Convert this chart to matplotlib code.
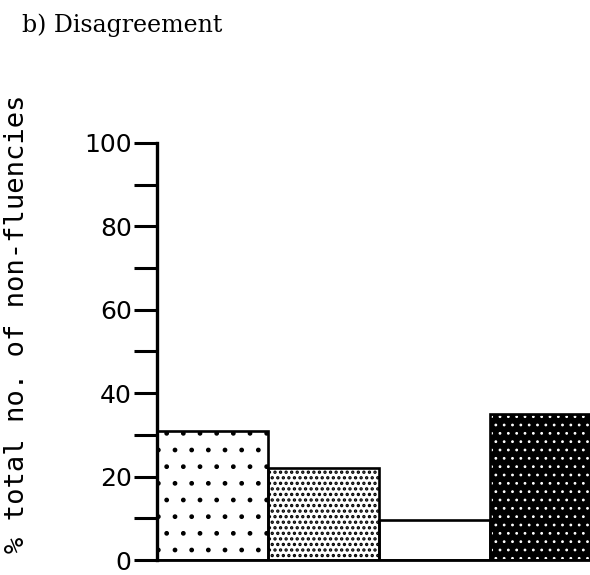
import matplotlib
matplotlib.use("Agg")

import matplotlib.pyplot as plt
from matplotlib.ticker import MultipleLocator


# ── Data ──────────────────────────────────────────────────────────────────────
conditions = ["cond 1", "cond 2", "cond 3", "cond 4"]
pct_nonfluencies = [31, 22, 9.5, 35]
y_major_ticks = [0, 20, 40, 60, 80, 100]

# ── Styles per bar ────────────────────────────────────────────────────────────
FACE_COLORS = ["white", "white", "white", "black"]
HATCHES = [".", "...", None, ".."]
HATCH_COLORS = ["black", "black", "black", "white"]
HATCH_WIDTHS = [1.0, 1.6, 1.0, 0.8]


fig = plt.figure(figsize=(5.9, 5.75), dpi=100)
fig.patch.set_facecolor("white")
ax = fig.add_axes([0.2656, 0.026, 0.7525, 0.7254])

x = list(range(len(conditions)))

# fill + hatch pass (no outline), then an outline pass on top
for xi, val, fc, h, hc, hw in zip(x, pct_nonfluencies, FACE_COLORS,
                                  HATCHES, HATCH_COLORS, HATCH_WIDTHS):
    with plt.rc_context({"hatch.linewidth": hw}):
        ax.bar(xi, val, width=1.0, align="edge", color=fc,
               edgecolor=hc, hatch=h, linewidth=0)
ax.bar(x, pct_nonfluencies, width=1.0, align="edge", fill=False,
       edgecolor="black", linewidth=1.9)

# Axis formatting
ax.set_xlim(0, len(conditions))
ax.set_ylim(0, 100)
ax.set_xticks([])
ax.set_yticks(y_major_ticks)
ax.yaxis.set_minor_locator(MultipleLocator(10))
ax.tick_params(axis="y", which="both", direction="out", length=16.5,
               width=2.2, pad=1.5, labelsize=18)
for lbl in ax.get_yticklabels():
    lbl.set_family("DejaVu Sans")

for side in ("top", "right"):
    ax.spines[side].set_visible(False)
ax.spines["left"].set_linewidth(2.4)
ax.spines["bottom"].set_linewidth(2.0)

ax.set_ylabel("% total no. of non-fluencies", family="DejaVu Sans Mono",
              fontsize=19.5)
ax.yaxis.set_label_coords(-0.285, 0.567)

fig.text(22 / 590, 1 - 32 / 575, "b) Disagreement", family="DejaVu Serif",
         fontsize=17, ha="left", va="baseline")

fig.savefig("out.png", dpi=100, facecolor="white")
